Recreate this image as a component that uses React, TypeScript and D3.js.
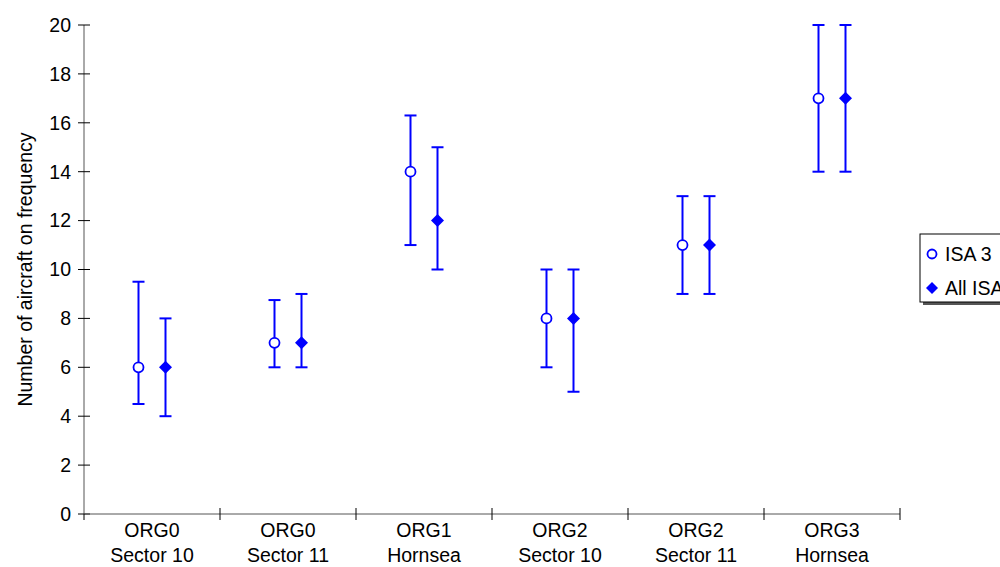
import React from "react";
import * as d3 from "d3";

const categories = ["ORG0|Sector 10", "ORG0|Sector 11", "ORG1|Hornsea", "ORG2|Sector 10", "ORG2|Sector 11", "ORG3|Hornsea"];
const isa3Mean = [6, 7, 14, 8, 11, 17];
const isa3Low = [4.5, 6, 11, 6, 9, 14];
const isa3High = [9.5, 8.75, 16.3, 10, 13, 20];
const allMean = [6, 7, 12, 8, 11, 17];
const allLow = [4, 6, 10, 5, 9, 14];
const allHigh = [8, 9, 15, 10, 13, 20];
const yTicks = [0, 2, 4, 6, 8, 10, 12, 14, 16, 18, 20];
const seriesNames = ["ISA 3", "All ISA"];

const W = 1000, H = 567;
const left = 84, right = 900, top = 25, bottom = 514;
const blue = "#0000ff";
const font = "Liberation Sans, Arial, sans-serif";
const fs = 19.5;

export default function App() {
  const y = d3.scaleLinear().domain([0, 20]).range([bottom, top]);
  const x = d3.scaleBand().domain(categories).range([left, right]);
  const bw = x.bandwidth();
  const off = 13.5;
  const cap = 6;

  const bar = (cx: number, lo: number, hi: number, key: string) => (
    <g key={key} stroke={blue} strokeWidth={2}>
      <line x1={cx} x2={cx} y1={y(lo)} y2={y(hi)} />
      <line x1={cx - cap} x2={cx + cap} y1={y(lo)} y2={y(lo)} />
      <line x1={cx - cap} x2={cx + cap} y1={y(hi)} y2={y(hi)} />
    </g>
  );
  const diamond = (cx: number, cy: number, s: number) =>
    `M${cx},${cy - s}L${cx + s},${cy}L${cx},${cy + s}L${cx - s},${cy}Z`;

  return (
    <svg width={W} height={H} style={{ position: "absolute", left: 0, top: 0, background: "#fff" }} fontFamily={font}>
      {/* y axis */}
      <line x1={left} x2={left} y1={top} y2={bottom} stroke="#555" strokeWidth={1} />
      {yTicks.map((t) => (
        <g key={t}>
          <line x1={left - 6} x2={left + 6} y1={y(t)} y2={y(t)} stroke="#000" />
          <text x={left - 13} y={y(t)} dy="0.35em" textAnchor="end" fontSize={fs}>{t}</text>
        </g>
      ))}
      {/* x axis */}
      <line x1={left} x2={right} y1={bottom} y2={bottom} stroke="#555" strokeWidth={1} />
      {categories.map((c, i) => (
        <line key={"t" + i} x1={(x(c) as number) + bw} x2={(x(c) as number) + bw} y1={bottom - 6} y2={bottom + 6} stroke="#000" />
      ))}
      <line x1={left} x2={left} y1={bottom} y2={bottom + 6} stroke="#000" />
      {categories.map((c, i) => {
        const cx = (x(c) as number) + bw / 2;
        const [a, b] = c.split("|");
        return (
          <text key={"l" + i} x={cx} textAnchor="middle" fontSize={fs}>
            <tspan x={cx} y={537}>{a}</tspan>
            <tspan x={cx} y={562}>{b}</tspan>
          </text>
        );
      })}
      <text transform={`translate(32,${(top + bottom) / 2}) rotate(-90)`} textAnchor="middle" fontSize={fs}>
        Number of aircraft on frequency
      </text>
      {/* error bars */}
      {categories.map((c, i) => {
        const cx = (x(c) as number) + bw / 2;
        return (
          <g key={"e" + i}>
            {bar(cx - off, isa3Low[i], isa3High[i], "a")}
            {bar(cx + off, allLow[i], allHigh[i], "b")}
            <circle cx={cx - off} cy={y(isa3Mean[i])} r={5} fill="#fff" stroke={blue} strokeWidth={1.8} />
            <path d={diamond(cx + off, y(allMean[i]), 6.5)} fill={blue} />
          </g>
        );
      })}
      {/* legend */}
      <rect x={923} y={237} width={90} height={68} fill="#555" />
      <rect x={920} y={234} width={90} height={68} fill="#fff" stroke="#000" strokeWidth={1} />
      <circle cx={932} cy={254} r={4.5} fill="#fff" stroke={blue} strokeWidth={1.8} />
      <text x={945} y={254} dy="0.35em" fontSize={fs}>{seriesNames[0]}</text>
      <path d={diamond(932, 288, 6)} fill={blue} />
      <text x={945} y={288} dy="0.35em" fontSize={fs}>{seriesNames[1]}</text>
    </svg>
  );
}
